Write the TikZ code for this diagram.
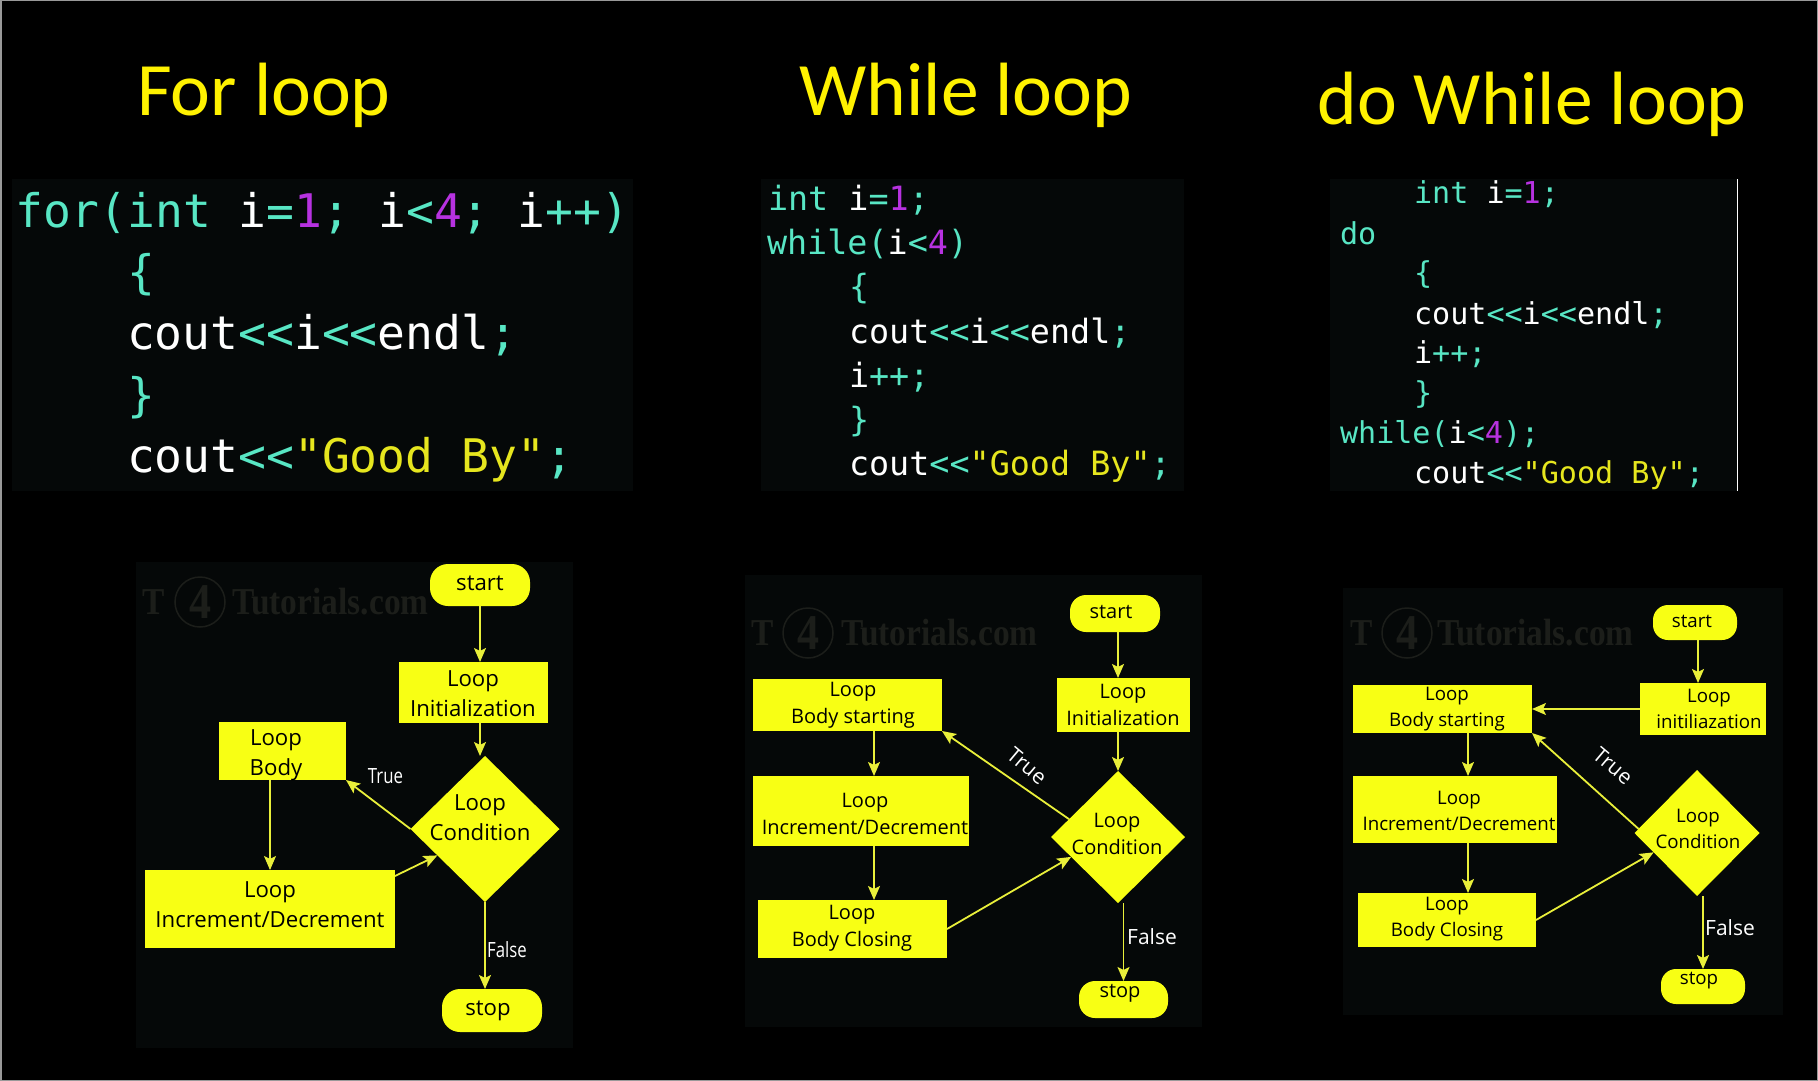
\documentclass[tikz,border=0pt]{standalone}
\usepackage{fontspec}
\usetikzlibrary{arrows.meta,shapes.geometric}
\setmainfont{Open Sans}
\newfontfamily\titlefont{Carlito}
\newfontfamily\codefont{DejaVu Sans Mono}
\newfontfamily\markfont{Liberation Serif}[FakeStretch=0.88]
\definecolor{ybox}{HTML}{F8FF14}
\definecolor{yline}{HTML}{E9EF3A}
\definecolor{ytitle}{HTML}{FFF200}
\definecolor{panel}{HTML}{050808}
\definecolor{wmark}{HTML}{1C1E1A}
\definecolor{kteal}{HTML}{58E6C4}
\definecolor{kpurple}{HTML}{B732E0}
\definecolor{kstr}{HTML}{E6E61E}
\newcommand{\kt}[1]{\textcolor{kteal}{#1}}
\newcommand{\kp}[1]{\textcolor{kpurple}{#1}}
\newcommand{\ks}[1]{\textcolor{kstr}{#1}}
\tikzset{
  every node/.style={inner sep=0pt,outer sep=0pt},
  boxnode/.style={fill=ybox,rectangle},
  pillnode/.style={fill=ybox,rectangle,rounded corners=18pt},
  decnode/.style={fill=ybox,diamond,aspect=1},
  txt/.style={text=black,align=center,font=\fontsize{22.2}{30}\selectfont},
  txtb/.style={text=black,align=center,font=\fontsize{20}{27}\selectfont},
  txtc/.style={text=black,align=center,font=\fontsize{18.7}{25.5}\selectfont},
  flag/.style={text=white,font=\fontsize{21}{25}\selectfont,xscale=.8},
  conn/.style={draw=yline,line width=1.8pt,-{Stealth[length=14pt,width=12pt,inset=3pt,fill=yline]}},
  title/.style={text=ytitle,font=\titlefont\fontsize{75.5}{82}\selectfont},
  codeA/.style={anchor=base west,text=white,font=\codefont\fontsize{46.3}{50}\selectfont},
  codeB/.style={anchor=base west,text=white,font=\codefont\fontsize{33.4}{36}\selectfont},
  codeC/.style={anchor=base west,text=white,font=\codefont\fontsize{30.1}{33}\selectfont},
  wm/.style={text=wmark,font=\markfont\bfseries\fontsize{38}{40}\selectfont},
  wmring/.style={draw=wmark,line width=1.5pt,circle,minimum size=50pt,text=wmark,font=\markfont\bfseries\fontsize{50}{52}\selectfont},
  sidebar/.style={draw=white,line width=.8pt},
}
\begin{document}
\begin{tikzpicture}[x=1pt,y=-1pt]
\useasboundingbox (0,0) rectangle (1818,1081);
\fill[black] (0,0) rectangle (1818,1081);
\draw[gray!80,line width=1.5pt] (0.75,0.75) rectangle (1817.25,1080.25);

% ---------- panels
\fill[panel] (12,179) rectangle (633,491);
\fill[panel] (761,179) rectangle (1184,491);
\fill[panel] (1330,179) rectangle (1737,491);
\fill[panel] (136,562) rectangle (573,1048);
\fill[panel] (745,575) rectangle (1202,1027);
\fill[panel] (1343,588) rectangle (1783,1015);

% ---------- titles
\node[title] (t1) at (264,95) {For loop};
\node[title] (t2) at (966,95) {While loop};
\node[title] (t3) at (1532,104) {do While loop};

% ---------- code 1
\node[codeA] (a1) at (16,227) {\kt{for(int} i\kt{=}\kp{1}\kt{;} i\kt{<}\kp{4}\kt{;} i\kt{++)}};
\node[codeA] (a2) at (127,288) {\kt{\{}};
\node[codeA] (a3) at (127,349) {cout\kt{<<}i\kt{<<}endl\kt{;}};
\node[codeA] (a4) at (127,411) {\kt{\}}};
\node[codeA] (a5) at (127,472) {cout\kt{<<}\ks{"Good By"}\kt{;}};

% ---------- code 2
\node[codeB] (b1) at (768,210) {\kt{int} i\kt{=}\kp{1}\kt{;}};
\node[codeB] (b2) at (767,254) {\kt{while(}i\kt{<}\kp{4}\kt{)}};
\node[codeB] (b3) at (849,298) {\kt{\{}};
\node[codeB] (b4) at (849,343) {cout\kt{<<}i\kt{<<}endl\kt{;}};
\node[codeB] (b5) at (849,387) {i\kt{++;}};
\node[codeB] (b6) at (849,431) {\kt{\}}};
\node[codeB] (b7) at (849,475) {cout\kt{<<}\ks{"Good By"}\kt{;}};

% ---------- code 3
\node[codeC] (c1) at (1414,203) {\kt{int} i\kt{=}\kp{1}\kt{;}};
\node[codeC] (c2) at (1340,244) {\kt{do}};
\node[codeC] (c3) at (1414,283) {\kt{\{}};
\node[codeC] (c4) at (1414,324) {cout\kt{<<}i\kt{<<}endl\kt{;}};
\node[codeC] (c5) at (1414,363) {i\kt{++;}};
\node[codeC] (c6) at (1414,403) {\kt{\}}};
\node[codeC] (c7) at (1340,443) {\kt{while(}i\kt{<}\kp{4}\kt{);}};
\node[codeC] (c8) at (1414,483) {cout\kt{<<}\ks{"Good By"}\kt{;}};
\coordinate (sbt) at (1737,179);
\coordinate (sbb) at (1737,491);
\draw[sidebar] (sbt) -- (sbb);

% ---------- watermarks
\node[wm] (w1t) at (154,602) {T};
\node[wmring] (w1r) at (200,602) {4};
\node[wm,anchor=west] (w1w) at (232,602) {Tutorials.com};
\node[wm] (w2t) at (763,633) {T};
\node[wmring] (w2r) at (808,633) {4};
\node[wm,anchor=west] (w2w) at (841,633) {Tutorials.com};
\node[wm] (w3t) at (1362,633) {T};
\node[wmring] (w3r) at (1407,633) {4};
\node[wm,anchor=west] (w3w) at (1437,633) {Tutorials.com};

% ---------- flowchart 1
\node[pillnode,minimum width=100pt,minimum height=42pt] (s1) at (480,585) {};
\node[boxnode,minimum width=149pt,minimum height=61pt] (i1) at (473.5,692.5) {};
\node[boxnode,minimum width=127pt,minimum height=58pt] (lb1) at (282.5,751) {};
\node[boxnode,minimum width=250pt,minimum height=78pt] (inc1) at (270,909) {};
\node[decnode,minimum width=149pt,minimum height=146pt] (d1) at (485,829) {};
\node[pillnode,minimum width=100pt,minimum height=43pt] (e1) at (492,1010.5) {};
\node[txt] (s1t) at (480,583) {start};
\node[txt] (e1t) at (488,1011) {stop};
\node[txt] (i1t) at (473,694) {Loop\\Initialization};
\node[txt] (lb1t) at (276,755) {Loop\\Body};
\node[txt] (d1t) at (480,818) {Loop\\Condition};
\node[txt] (inc1t) at (270,905) {Loop\\Increment/Decrement};
\draw[conn] (s1.south) -- (s1.south |- i1.north);
\draw[conn] (i1.south -| s1.south) -- (d1.north -| s1.south);
\draw[conn,line width=1.1pt] (lb1.south -| inc1.north) -- (inc1.north);
\draw[conn] (d1.west) -- (lb1.south east);
\draw[conn] (inc1.north east) ++(0,6) -- (d1.209);
\draw[conn] (d1.south) -- (d1.south |- e1.north);
\node[flag] (f1) at (507,950) {False};
\node[flag] (tr1) at (385.5,776) {True};

% ---------- flowchart 2
\node[pillnode,minimum width=90pt,minimum height=37pt,rounded corners=16pt] (s2) at (1115,613.5) {};
\node[boxnode,minimum width=133pt,minimum height=54pt] (i2) at (1123.5,705) {};
\node[boxnode,minimum width=189pt,minimum height=52pt] (lb2) at (847.5,705) {};
\node[boxnode,minimum width=216pt,minimum height=70pt] (inc2) at (861,811) {};
\node[boxnode,minimum width=189pt,minimum height=58pt] (cl2) at (852.5,929) {};
\node[decnode,minimum width=134pt,minimum height=132pt] (d2) at (1118,837) {};
\node[pillnode,minimum width=89pt,minimum height=37pt,rounded corners=16pt] (e2) at (1123.5,999.5) {};
\node[txtb] (s2t) at (1111,612) {start};
\node[txtb] (e2t) at (1120,993) {stop};
\node[txtb] (i2t) at (1123,705) {Loop\\Initialization};
\node[txtb] (lb2t) at (853,705) {Loop\\Body starting};
\node[txtb] (d2t) at (1117,834) {Loop\\Condition};
\node[txtb] (inc2t) at (865,814) {Loop\\Increment/Decrement};
\node[txtb] (cl2t) at (852,928) {Loop\\Body Closing};
\draw[conn] (d2.north |- s2.south) -- (d2.north |- i2.north);
\draw[conn] (d2.north |- i2.south) -- (d2.north);
\draw[conn] (d2.160) -- (lb2.south east);
\coordinate (l2) at (874,731);
\draw[conn] (l2) -- (l2 |- inc2.north);
\draw[conn] (l2 |- inc2.south) -- (l2 |- cl2.north);
\draw[conn] (cl2.east) -- (d2.203);
\draw[conn] (e2.north |- d2.south) -- (e2.north);
\node[flag,xscale=1.25] (f2) at (1152,937) {False};
\node[flag,xscale=1.25,rotate=-40] (tr2) at (1027,766) {True};

% ---------- flowchart 3
\node[pillnode,minimum width=84pt,minimum height=35pt,rounded corners=15pt] (s3) at (1695,622.5) {};
\node[boxnode,minimum width=126pt,minimum height=52pt] (i3) at (1703,709) {};
\node[boxnode,minimum width=179pt,minimum height=48pt] (lb3) at (1442.5,709) {};
\node[boxnode,minimum width=204pt,minimum height=67pt] (inc3) at (1455,809.5) {};
\node[boxnode,minimum width=178pt,minimum height=54pt] (cl3) at (1447,920) {};
\node[decnode,minimum width=125pt,minimum height=126pt] (d3) at (1697,833) {};
\node[pillnode,minimum width=84pt,minimum height=35pt,rounded corners=15pt] (e3) at (1703,986.5) {};
\node[txtc] (s3t) at (1692,621) {start};
\node[txtc] (e3t) at (1699,981) {stop};
\node[txtc] (i3t) at (1709,709) {Loop\\initiliazation};
\node[txtc] (lb3t) at (1447,709) {Loop\\Body starting};
\node[txtc] (d3t) at (1698,829) {Loop\\Condition};
\node[txtc] (inc3t) at (1459,811) {Loop\\Increment/Decrement};
\node[txtc] (cl3t) at (1447,919) {Loop\\Body Closing};
\coordinate (l3) at (1468,733);
\coordinate (m3) at (1698,640);
\draw[conn] (m3) -- (m3 |- i3.north);
\draw[conn] (i3.west) -- (lb3.east);
\draw[conn] (d3.176) -- (lb3.south east);
\draw[conn] (l3) -- (l3 |- inc3.north);
\draw[conn] (l3 |- inc3.south) -- (l3 |- cl3.north);
\draw[conn] (cl3.east) -- (d3.204);
\draw[conn] (d3.south -| e3.north) -- (e3.north);
\node[flag,xscale=1.25] (f3) at (1730,928) {False};
\node[flag,xscale=1.25,rotate=-40] (tr3) at (1613,766) {True};
\end{tikzpicture}
\end{document}
